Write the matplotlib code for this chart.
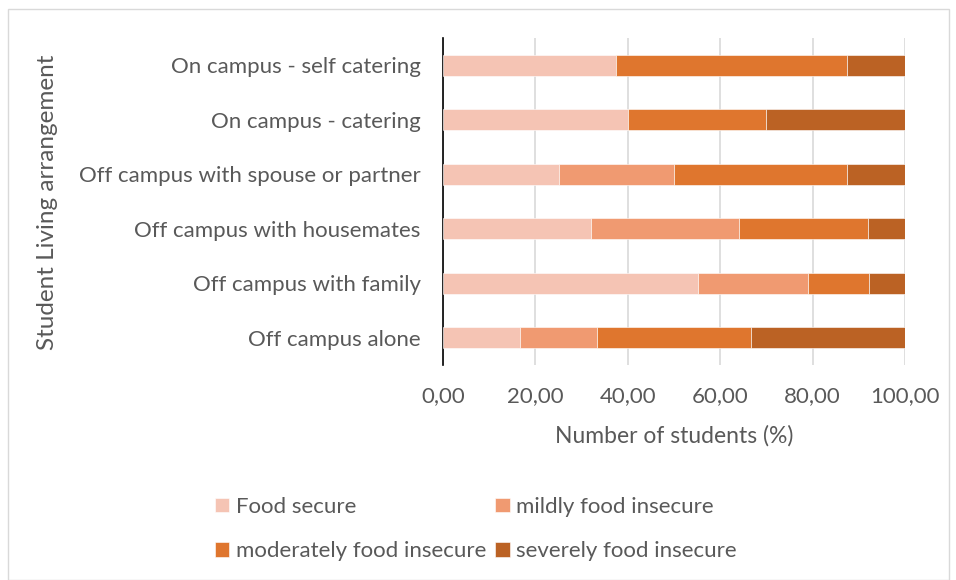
import matplotlib.pyplot as plt
from matplotlib.patches import Rectangle
from matplotlib.ticker import FuncFormatter

# living arrangements, listed top to bottom
arrangements = ['On campus - self catering', 'On campus - catering',
                'Off campus with spouse or partner', 'Off campus with housemates',
                'Off campus with family', 'Off campus alone']

series_names = ['Food secure', 'mildly food insecure',
                'moderately food insecure', 'severely food insecure']

food_secure = [37.5, 40.0, 25.0, 32.0, 55.3, 16.67]
mildly = [0.0, 0.0, 25.0, 32.0, 23.7, 16.67]
moderately = [50.0, 30.0, 37.5, 28.0, 13.2, 33.33]
severely = [12.5, 30.0, 12.5, 8.0, 7.9, 33.33]

colors = ['#F5C4B4', '#F09A71', '#DF762E', '#BB6224']
grey = '#595959'

plt.rcParams['font.family'] = ['Lato', 'DejaVu Sans']

fig = plt.figure(figsize=(9.56, 5.8), dpi=100)
fig.patches.append(Rectangle((8 / 956, 0), 941 / 956, 571 / 580, transform=fig.transFigure,
                             fill=False, edgecolor='#D9D9D9', linewidth=1))
ax = fig.add_axes([443 / 956, 1 - 365 / 580, 462 / 956, 327 / 580])

ypos = range(len(arrangements))
left = [0.0] * len(arrangements)
for name, vals, c in zip(series_names, [food_secure, mildly, moderately, severely], colors):
    ax.barh(ypos, vals, left=left, height=0.39, color=c, label=name,
            edgecolor='white', linewidth=0.4, zorder=3)
    left = [a + b for a, b in zip(left, vals)]

ax.set_xlim(0, 100)
ax.set_ylim(5.5, -0.5)
ax.set_xticks([0, 20, 40, 60, 80, 100])
ax.xaxis.set_major_formatter(FuncFormatter(lambda v, p: f'{v:.2f}'.replace('.', ',')))
ax.set_yticks(list(ypos))
ax.set_yticklabels(arrangements)
ax.grid(axis='x', color='#D9D9D9', linewidth=1.2, zorder=0)
for s in ['top', 'right', 'bottom']:
    ax.spines[s].set_visible(False)
ax.spines['left'].set_color('black')
ax.spines['left'].set_linewidth(1.2)
ax.tick_params(axis='both', length=0, labelsize=16, colors=grey)
ax.tick_params(axis='y', pad=16)
ax.tick_params(axis='x', pad=15)

ax.set_xlabel('Number of students (%)', fontsize=16.5, color=grey, labelpad=14)
fig.text(48 / 956, 1 - 202 / 580, 'Student Living arrangement', rotation=90,
         ha='center', va='center', fontsize=17.5, color=grey)

# legend filled row by row: two entries per row
handles, labels = ax.get_legend_handles_labels()
order = [0, 2, 1, 3]
fig.legend([handles[i] for i in order], [labels[i] for i in order], ncol=2, loc='center',
           bbox_to_anchor=(476 / 956, 1 - 529 / 580), frameon=False, fontsize=16,
           labelcolor=grey, handlelength=0.65, handleheight=0.65, handletextpad=0.3,
           columnspacing=0.4, labelspacing=1.1)

fig.savefig('out.png', dpi=100)
